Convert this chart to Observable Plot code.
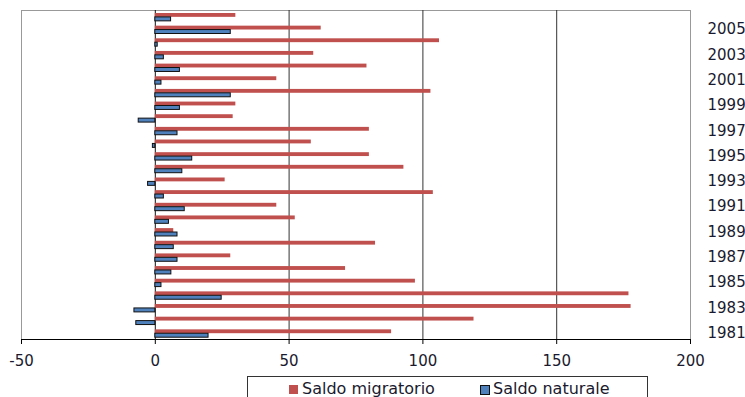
<!DOCTYPE html>
<html><head><meta charset="utf-8">
<script src="https://cdn.jsdelivr.net/npm/d3@7"></script>
<script src="https://cdn.jsdelivr.net/npm/@observablehq/plot@0.6"></script>
<style>
body{margin:0;background:#fff;font-family:"DejaVu Sans",Verdana,sans-serif;overflow:hidden}
#chart{position:relative;width:745px;height:397px}
#legend{position:absolute;left:247px;top:376px;width:399px;height:30px;border:1px solid #333;background:#fff;font-size:16px;color:#1a1a2e}
.sw{position:absolute;top:8px;width:9px;height:9px}
.lt{position:absolute;top:1px;line-height:21px;white-space:nowrap}
</style></head>
<body><div id="chart"></div>
<script>
const years = [1981,1982,1983,1984,1985,1986,1987,1988,1989,1990,1991,1992,1993,1994,1995,1996,1997,1998,1999,2000,2001,2002,2003,2004,2005,2006];
const saldoMigratorio = [88.3,119.1,177.8,177,97.2,71.1,28.2,82.3,6.9,52.3,45.4,103.9,26.1,92.9,80,58.3,80,29.1,30.1,103,45.4,79.1,59.2,106.2,62,30.1];
const saldoNaturale = [19.9,-7.1,-7.8,24.8,2.3,6.0,8.3,6.9,8.3,5.1,11,3.2,-2.7,10.1,13.8,-0.9,8.3,-6.2,9.2,28.2,2.3,9.2,3.2,0.9,28.2,5.9];
const xTicks = [-50,0,50,100,150,200];
const gridValues = [0,50,100,150];
const yearLabels = [1981,1983,1985,1987,1989,1991,1993,1995,1997,1999,2001,2003,2005];
const seriesNames = ["Saldo migratorio","Saldo naturale"];
const colors = ["#C0504D","#4F81BD"];

const mig = years.map((y,i)=>({year:y, value:saldoMigratorio[i]}));
const nat = years.map((y,i)=>({year:y, value:saldoNaturale[i]}));

const chart = Plot.plot({
  width:745, height:376,
  marginTop:10, marginBottom:37, marginLeft:21, marginRight:55,
  style:{fontFamily:"'DejaVu Sans', Verdana, sans-serif", fontSize:"15px", color:"#1a1a2e", background:"transparent", overflow:"visible"},
  x:{domain:[-50,200], label:null},
  y:{domain:years.slice().reverse(), padding:0, round:false, label:null},
  marks:[
    Plot.frame({stroke:"#999"}),
    Plot.ruleX(gridValues.slice(1), {stroke:"#333", strokeWidth:1}),
    Plot.ruleX([0], {stroke:"#111", strokeWidth:1}),
    Plot.barX(mig, {x:"value", y:"year", fill:colors[0], insetTop:3.0, insetBottom:5.8}),
    Plot.barX(nat, {x:"value", y:"year", fill:colors[1], stroke:"#111", strokeWidth:1, insetTop:6.9, insetBottom:1.8}),
    Plot.frame({anchor:"bottom", stroke:"#000"}),
    Plot.axisX(xTicks, {tickSize:5, tickPadding:11, tickFormat:d=>String(d), stroke:"#000"}),
    Plot.axisY(yearLabels, {anchor:"right", tickSize:0, tickPadding:17, textAnchor:"start", tickFormat:d=>String(d)})
  ]
});
const root = document.getElementById("chart");
root.appendChild(chart);
const leg = document.createElement("div");
leg.id = "legend";
const offs = [[41,54],[232,245]];
seriesNames.forEach((n,i)=>{
  const s = document.createElement("div"); s.className="sw";
  s.style.left = offs[i][0]+"px"; s.style.background = colors[i];
  if (i===1) { s.style.border="1px solid #111"; s.style.width="8px"; s.style.height="8px"; }
  const t = document.createElement("div"); t.className="lt";
  t.style.left = offs[i][1]+"px"; t.textContent = n;
  leg.appendChild(s); leg.appendChild(t);
});
root.appendChild(leg);
</script></body></html>
